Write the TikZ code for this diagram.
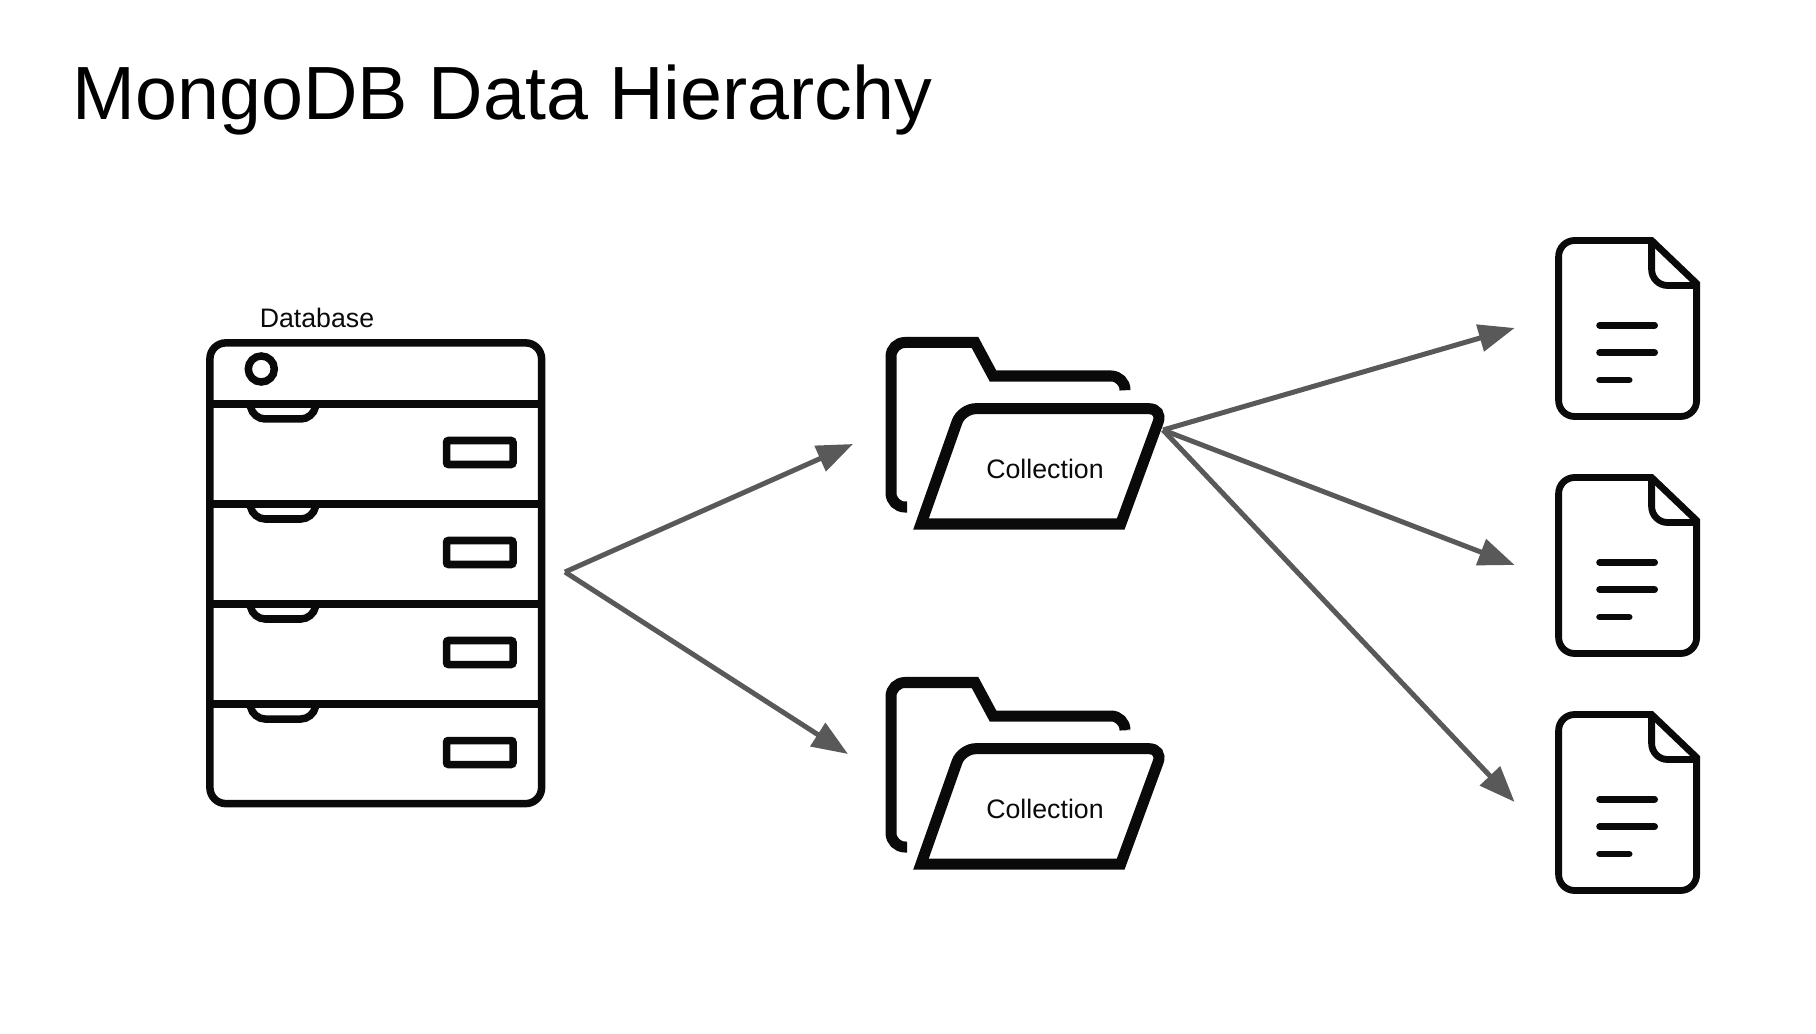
\documentclass[tikz,border=0pt]{standalone}
\usepackage{fontspec}
\setmainfont{Liberation Sans}
\usepackage{xcolor}
\usetikzlibrary{calc,positioning,arrows.meta}

\definecolor{flowgray}{HTML}{595959}
\definecolor{inkblack}{HTML}{0A0A0A}

\tikzset{
    titletext/.style={inner sep=0, anchor=base west, text=black, font=\fontsize{21.45pt}{24pt}\selectfont},
    labeltext/.style={inner sep=0, anchor=base, text=inkblack, font=\fontsize{7.6pt}{9pt}\selectfont},
    flow/.style={-{Triangle[length=0.36cm, width=0.27cm]}, line width=0.05cm, draw=flowgray, fill=flowgray},
    rack/.style={draw=inkblack, line width=0.075cm, minimum width=3.315cm, minimum height=4.605cm, inner sep=0, rounded corners=0.16cm},
    rackline/.style={draw=inkblack, line width=0.075cm},
    folderline/.style={draw=inkblack, line width=0.11cm},
    docline/.style={draw=inkblack, line width=0.068cm},
    folder/.pic={
        \draw[folderline] (-138,39) [rounded corners=0.14cm] -- (-154,39) -- (-154,-125.5) [sharp corners] -- (-70,-125.5) -- (-52,-92) [rounded corners=0.14cm] -- (80,-92) -- (80,-78);
        \draw[folderline] (-124,56) [rounded corners=0.14cm] -- (-83.3,-59.3) -- (118,-59.3) [sharp corners] -- (75.7,56) -- cycle;
        \node[labeltext, anchor=center] (-label) at (0,1) {Collection};
        \coordinate (-port) at (118,-38);
    },
    document/.pic={
        \draw[docline] (69,-45) [rounded corners=0.16cm] -- (69,88) -- (-69,88) -- (-69,-88) [sharp corners] -- (24,-88) -- cycle;
        \draw[docline] (24,-88) [rounded corners=0.16cm] -- (24,-43) -- (69,-43);
        \draw[docline, line cap=round] (-28,-3.2) -- (27,-3.2);
        \draw[docline, line cap=round] (-28,24.2) -- (27,24.2);
        \draw[docline, line cap=round] (-28,51.5) -- (1.5,51.5);
        \coordinate (-port) at (-113,-0.5);
    },
}

\begin{document}
\begin{tikzpicture}[x=0.01cm, y=-0.01cm]
        \useasboundingbox (0,0) rectangle (1816,1034);

        \node [titletext] (title) at (72,120) {MongoDB Data Hierarchy};

        \node [rack] (database) at (375.75,573.25) {};
        \node [labeltext] (dblabel) at (317,328) {Database};
        \node [draw=inkblack, line width=0.075cm, circle, minimum size=0.26cm, inner sep=0] (dbled) at (261.3,369) {};

        % Shelves
        \foreach \y in {404,504,604,704} {
            \draw[rackline] (database.west |- 0,\y) -- (database.east |- 0,\y);
            \draw[rackline, rounded corners=0.12cm] (250,\y) -- (253,\y+15) -- (313,\y+15) -- (316,\y);
            \draw[rackline, rounded corners=0.02cm] (446.5,\y+36.5) rectangle (513,\y+60.5);
        }

        \pic (folderA) at (1045,468) {folder};
        \pic (folderB) at (1045,808) {folder};

        \pic (docA) at (1627.6,328.5) {document};
        \pic (docB) at (1627.6,565.5) {document};
        \pic (docC) at (1627.6,802.5) {document};

        \coordinate (dbport) at (565,572);
        \coordinate (folderAin) at (853,444);
        \coordinate (folderBin) at (848,754);

        \draw[flow] (dbport) -- (folderAin);
        \draw[flow] (dbport) -- (folderBin);
        \draw[flow] (folderA-port) -- (docA-port);
        \draw[flow] (folderA-port) -- (docB-port);
        \draw[flow] (folderA-port) -- (docC-port);
    \end{tikzpicture}
\end{document}
